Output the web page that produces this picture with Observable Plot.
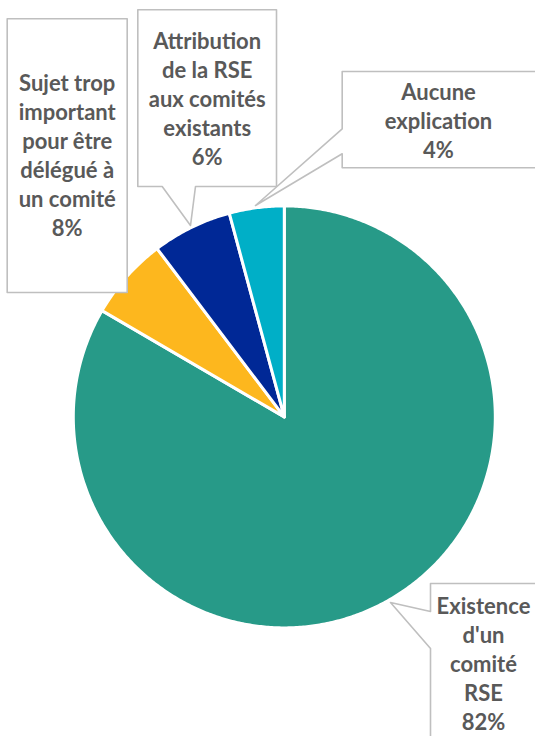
<!DOCTYPE html>
<html>
<head>
<meta charset="utf-8">
<script src="https://cdn.jsdelivr.net/npm/d3@7"></script>
<script src="https://cdn.jsdelivr.net/npm/@observablehq/plot@0.6"></script>
<style>
  html, body { margin: 0; padding: 0; background: #fff; overflow: hidden; }
  #chart svg { display: block; }
</style>
</head>
<body>
<div id="chart"></div>
<script>
// ---- data ----
const categories = [
  "Existence\nd'un\ncomité\nRSE",
  "Sujet trop\nimportant\npour être\ndélégué à\nun comité",
  "Attribution\nde la RSE\naux comités\nexistants",
  "Aucune\nexplication"
];
const values = [83.4, 6.3, 6.1, 4.2];          // slice sizes as drawn
const pctLabels = ["82%", "8%", "6%", "4%"];   // labels as printed
const colors = ["#279a88", "#fdb71e", "#002896", "#00afc7"];

// ---- layout (pixels) ----
const W = 535, H = 736;
const cx = 283.8, cy = 416.4, R = 211;
const boxes = [
  {outline: [[430,583],[540,583],[540,745],[430,745],[430,648],[390,602],[430,611]], tx: 483, ty: 729},
  {outline: [[6.7,18.3],[126.7,18.3],[126.7,292],[6.7,292]], tx: 66.7, ty: 235},
  {outline: [[137.3,9.3],[276,9.3],[276,186],[195,186],[190,225],[161.7,186],[137.3,186]], tx: 206.7, ty: 164},
  {outline: [[341.7,71],[540,71],[540,167.3],[341.7,167.3],[341.7,153.3],[255,205],[341.7,128.3]], tx: 438, ty: 157}
];
const px = v => (v - cx) / R;
const py = v => (cy - v) / R;

// ---- slices ----
const arcs = d3.pie().sort(null).value(d => d)(values);
const slicePts = arcs.map((a, i) => {
  const pts = [{x: 0, y: 0}];
  const n = Math.max(2, Math.ceil((a.endAngle - a.startAngle) / (Math.PI / 360)));
  for (let k = 0; k <= n; ++k) {
    const t = a.startAngle + (a.endAngle - a.startAngle) * k / n;
    pts.push({x: Math.sin(t), y: Math.cos(t)});
  }
  return {pts, color: colors[i]};
});

const labelData = categories.map((c, i) => ({
  text: c + "\n" + pctLabels[i],
  x: px(boxes[i].tx),
  y: py(boxes[i].ty)
}));

const fs = 22;
const marks = [];
slicePts.forEach(s => marks.push(Plot.line(s.pts, {
  x: "x", y: "y", curve: "linear-closed",
  fill: s.color, stroke: "white", strokeWidth: 3, strokeLinejoin: "round"
})));
boxes.forEach(b => marks.push(Plot.line(b.outline.map(([a, c]) => ({x: px(a), y: py(c)})), {
  x: "x", y: "y", curve: "linear-closed",
  fill: "white", stroke: "#bfbfbf", strokeWidth: 1.6
})));
marks.push(Plot.text(labelData, {
  x: "x", y: "y", text: "text",
  textAnchor: "middle", lineAnchor: "bottom", lineHeight: 29 / fs,
  fontSize: fs, fontWeight: 700, fontFamily: "Lato, 'Open Sans', sans-serif",
  fill: "#595959"
}));

const chart = Plot.plot({
  width: W, height: H,
  marginLeft: cx - R, marginRight: W - cx - R,
  marginTop: cy - R, marginBottom: H - cy - R,
  x: {domain: [-1, 1], axis: null},
  y: {domain: [-1, 1], axis: null},
  style: {background: "white", overflow: "hidden"},
  marks
});
document.getElementById("chart").appendChild(chart);
</script>
</body>
</html>
